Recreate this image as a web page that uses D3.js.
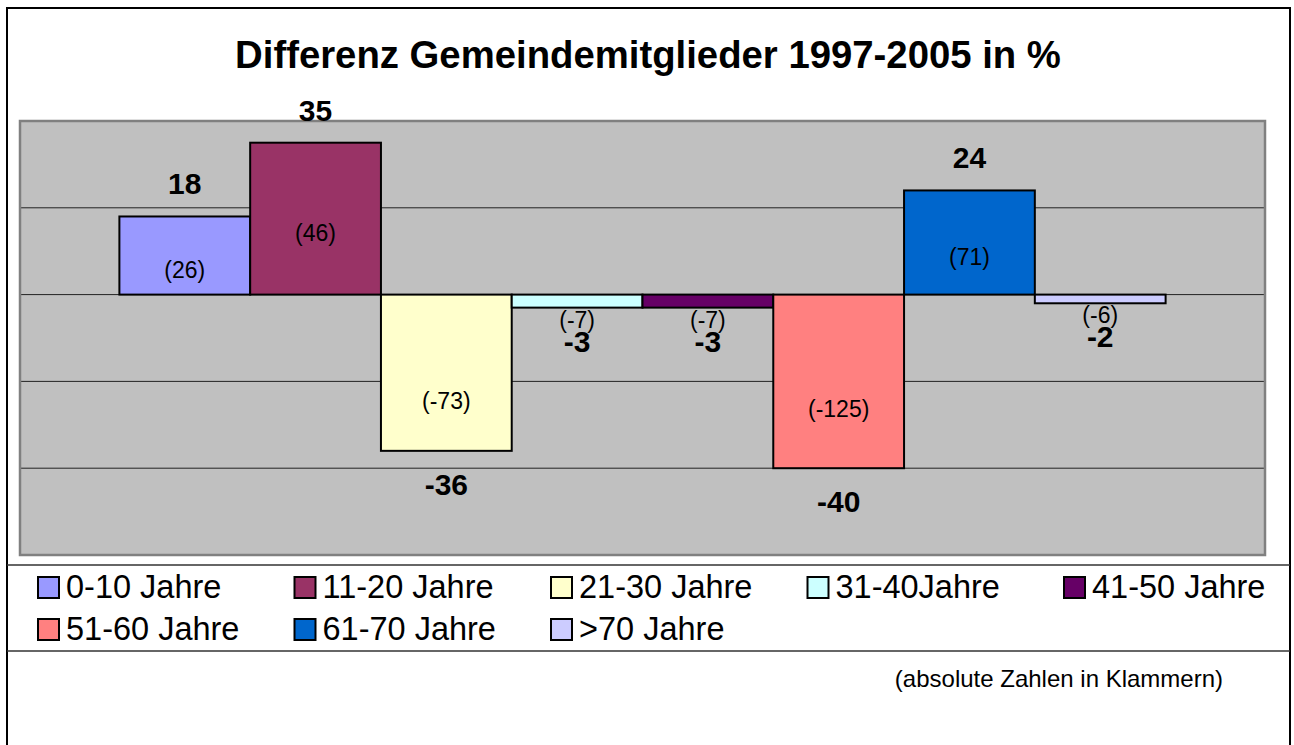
<!DOCTYPE html>
<html>
<head>
<meta charset="utf-8">
<script src="https://cdn.jsdelivr.net/npm/d3@7"></script>
<style>
  body { margin: 0; background: #fff; }
  text { font-family: Arial, "Liberation Sans", sans-serif; }
</style>
</head>
<body>
<div id="chart"></div>
<script>
// chart data
const groups = ["0-10 Jahre", "11-20 Jahre", "21-30 Jahre", "31-40Jahre",
  "41-50 Jahre", "51-60 Jahre", "61-70 Jahre", ">70 Jahre"];
const percentDiff = [18, 35, -36, -3, -3, -40, 24, -2];
const absoluteDiff = [26, 46, -73, -7, -7, -125, 71, -6];
const yTicks = [-60, -40, -20, 0, 20, 40];
const barColours = ["#9999FF", "#993366", "#FFFFCC", "#CCFFFF",
  "#660066", "#FF8080", "#0066CC", "#CCCCFF"];

const width = 1294, height = 745;
const plot = { left: 20, top: 121, right: 1265, bottom: 555 };

const svg = d3.select("#chart").append("svg")
  .attr("width", width)
  .attr("height", height);

// outer frame
svg.append("path")
  .attr("d", `M7,${height} V8 H1290 V${height}`)
  .attr("fill", "none")
  .attr("stroke", "#000")
  .attr("stroke-width", 2);

// legend separators
[565, 651].forEach(yy => {
  svg.append("line")
    .attr("x1", 7).attr("x2", 1290)
    .attr("y1", yy).attr("y2", yy)
    .attr("stroke", "#333")
    .attr("stroke-width", 1.5);
});

// title
svg.append("text")
  .attr("x", 648)
  .attr("y", 68)
  .attr("text-anchor", "middle")
  .attr("font-size", 38.3)
  .attr("font-weight", "bold")
  .text("Differenz Gemeindemitglieder 1997-2005 in %");

// scales
const x = d3.scaleBand()
  .domain(groups)
  .range([plot.left, plot.right])
  .paddingInner(0)
  .paddingOuter(0.76);

const y = d3.scaleLinear()
  .domain([d3.min(yTicks), d3.max(yTicks)])
  .range([plot.bottom, plot.top]);

const colour = d3.scaleOrdinal().domain(groups).range(barColours);

// plot area
svg.append("rect")
  .attr("x", plot.left)
  .attr("y", plot.top)
  .attr("width", plot.right - plot.left)
  .attr("height", plot.bottom - plot.top)
  .attr("fill", "#C0C0C0");

// gridlines
svg.append("g")
  .selectAll("line")
  .data(yTicks.slice(1, -1))
  .join("line")
  .attr("x1", plot.left).attr("x2", plot.right)
  .attr("y1", d => y(d)).attr("y2", d => y(d))
  .attr("stroke", "#222")
  .attr("stroke-width", 1);

svg.append("rect")
  .attr("x", plot.left)
  .attr("y", plot.top)
  .attr("width", plot.right - plot.left)
  .attr("height", plot.bottom - plot.top)
  .attr("fill", "none")
  .attr("stroke", "#808080")
  .attr("stroke-width", 2.5);

const rows = groups.map((g, i) => ({ g, v: percentDiff[i], a: absoluteDiff[i] }));

// bars
svg.append("g")
  .selectAll("rect")
  .data(rows)
  .join("rect")
  .attr("x", d => x(d.g))
  .attr("y", d => y(Math.max(0, d.v)))
  .attr("width", x.bandwidth())
  .attr("height", d => Math.abs(y(d.v) - y(0)))
  .attr("fill", d => colour(d.g))
  .attr("stroke", "#000")
  .attr("stroke-width", 2);

// absolute values in brackets
svg.append("g")
  .selectAll("text")
  .data(rows)
  .join("text")
  .attr("x", d => x(d.g) + x.bandwidth() / 2)
  .attr("y", d => {
    const h = Math.abs(y(d.v) - y(0));
    const mid = (y(d.v) + y(0)) / 2;
    let c;
    if (h < 30) c = y(d.v) + 12;
    else if (d.v > 0) c = mid + 14;
    else c = mid + 28;
    return c + 8;
  })
  .attr("text-anchor", "middle")
  .attr("font-size", 23)
  .text(d => `(${d.a})`);

// percent labels
svg.append("g")
  .selectAll("text")
  .data(rows)
  .join("text")
  .attr("x", d => x(d.g) + x.bandwidth() / 2)
  .attr("y", d => d.v >= 0 ? y(d.v) - 22 : y(d.v) + 44)
  .attr("text-anchor", "middle")
  .attr("font-size", 30)
  .attr("font-weight", "bold")
  .text(d => d.v);

// legend
const legend = svg.append("g")
  .selectAll("g")
  .data(groups)
  .join("g")
  .attr("transform", (d, i) => `translate(${38 + (i % 5) * 256.5},${i < 5 ? 577 : 619})`);

legend.append("rect")
  .attr("width", 21)
  .attr("height", 21)
  .attr("fill", d => colour(d))
  .attr("stroke", "#000")
  .attr("stroke-width", 2);

legend.append("text")
  .attr("x", 28)
  .attr("y", 21)
  .attr("font-size", 32.5)
  .text(d => d);

// footnote
svg.append("text")
  .attr("x", 1223)
  .attr("y", 687)
  .attr("text-anchor", "end")
  .attr("font-size", 24)
  .text("(absolute Zahlen in Klammern)");
</script>
</body>
</html>
